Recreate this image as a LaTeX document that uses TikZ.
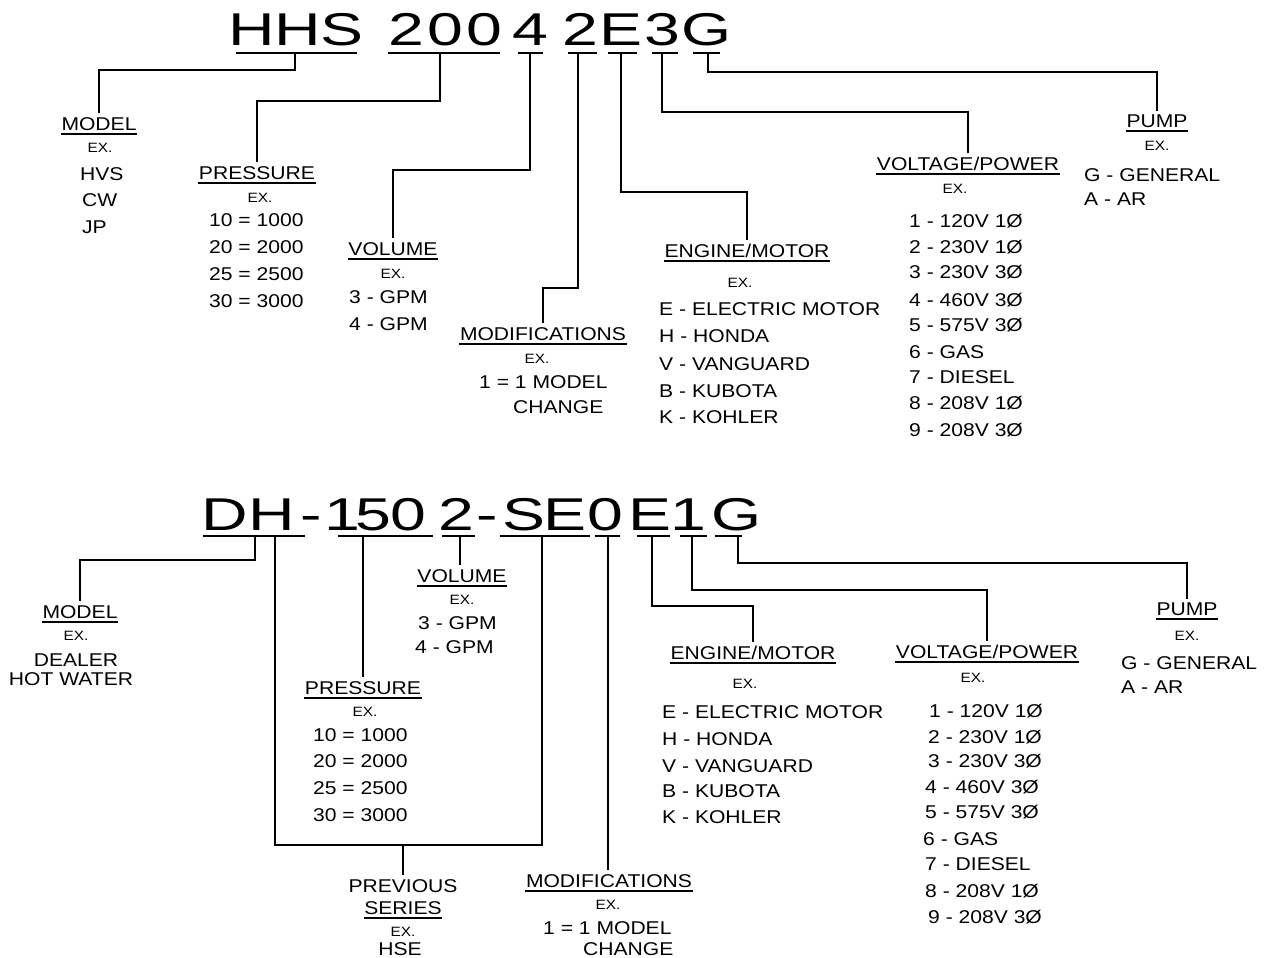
\documentclass[tikz,border=0pt]{standalone}
\usepackage{fontspec}
\setmainfont{Liberation Sans}[FakeStretch=1.14]
\newfontfamily\titlefont{Liberation Sans}[FakeStretch=1.4]
\begin{document}
\begin{tikzpicture}[x=1pt,y=-1pt,
  hd/.style={font=\fontsize{18.5}{20}\selectfont, inner sep=3.5pt, anchor=base},
  it/.style={font=\fontsize{18.5}{20}\selectfont, inner sep=0pt, anchor=base west},
  itc/.style={font=\fontsize{18.5}{20}\selectfont, inner sep=0pt, anchor=base},
  ex/.style={font=\fontsize{13.5}{15}\selectfont, inner sep=0pt, anchor=base},
  tch/.style={font=\titlefont\fontsize{46}{50}\selectfont, inner sep=0pt, anchor=base},
  ln/.style={line width=1.7pt},
  ul/.style={line width=1.7pt, shorten <=3pt, shorten >=3pt}]
\fill[white] (0,0) rectangle (1270,958);
\useasboundingbox (0,0) rectangle (1270,958);

% ===== TOP TITLE =====
\node[tch] (a1) at (252,46) {H};
\node[tch] (a2) at (298,46) {H};
\node[tch] (a3) at (342,46) {S};
\node[tch] (a4) at (406,46) {2};
\node[tch] (a5) at (445,46) {0};
\node[tch] (a6) at (484,46) {0};
\node[tch] (a7) at (530,46) {4};
\node[tch] (a8) at (580,46) {2};
\node[tch] (a9) at (621,46) {E};
\node[tch] (a10) at (662,46) {3};
\node[tch] (a11) at (707,46) {G};

\draw[ln] (236,53) -- (357,53);
\draw[ln] (388,53) -- (500,53);
\draw[ln] (518,53) -- (543,53);
\draw[ln] (568,53) -- (597,53);
\draw[ln] (608,53) -- (637,53);
\draw[ln] (652,53) -- (678,53);
\draw[ln] (693,53) -- (720,53);
\coordinate (u1) at (295,53);
\coordinate (u2) at (440,53);
\coordinate (u3) at (530,53);
\coordinate (u4) at (578,53);
\coordinate (u5) at (621,53);
\coordinate (u6) at (662,53);
\coordinate (u7) at (708,53);

% top headings
\node[hd] (m1) at (99,130) {MODEL};
\node[hd] (p1) at (257,179) {PRESSURE};
\node[hd] (v1) at (393,255) {VOLUME};
\node[hd] (mo1) at (543,340) {MODIFICATIONS};
\node[hd] (e1) at (747,257) {ENGINE/MOTOR};
\node[hd] (vp1) at (968,170) {VOLTAGE/POWER};
\node[hd] (pu1) at (1157,127) {PUMP};
\foreach \n in {m1,p1,v1,mo1,e1,vp1,pu1}
  \draw[ul] (\n.south west) -- (\n.south east);

% top EX.
\node[ex] (xm1) at (100,152) {EX.};
\node[ex] (xp1) at (260,202) {EX.};
\node[ex] (xv1) at (393,278) {EX.};
\node[ex] (xmo1) at (537,363) {EX.};
\node[ex] (xe1) at (740,287) {EX.};
\node[ex] (xvp1) at (955,193) {EX.};
\node[ex] (xpu1) at (1157,150) {EX.};

% top items
\node[it] (m1a) at (80,180) {HVS};
\node[it] (m1b) at (82,206) {CW};
\node[it] (m1c) at (82,233) {JP};
\node[it] (p1a) at (209,226) {10 = 1000};
\node[it] (p1b) at (209,253) {20 = 2000};
\node[it] (p1c) at (209,280) {25 = 2500};
\node[it] (p1d) at (209,307) {30 = 3000};
\node[it] (v1a) at (349,303) {3 - GPM};
\node[it] (v1b) at (349,330) {4 - GPM};
\node[it] (mo1a) at (479,388) {1 = 1 MODEL};
\node[it] (mo1b) at (513,413) {CHANGE};
\node[it] (e1a) at (659,315) {E - ELECTRIC MOTOR};
\node[it] (e1b) at (659,342) {H - HONDA};
\node[it] (e1c) at (659,370) {V - VANGUARD};
\node[it] (e1d) at (659,397) {B - KUBOTA};
\node[it] (e1e) at (659,423) {K - KOHLER};
\node[it] (vp1a) at (909,227) {1 - 120V 1Ø};
\node[it] (vp1b) at (909,253) {2 - 230V 1Ø};
\node[it] (vp1c) at (909,278) {3 - 230V 3Ø};
\node[it] (vp1d) at (909,306) {4 - 460V 3Ø};
\node[it] (vp1e) at (909,331) {5 - 575V 3Ø};
\node[it] (vp1f) at (909,358) {6 - GAS};
\node[it] (vp1g) at (909,383) {7 - DIESEL};
\node[it] (vp1h) at (909,409) {8 - 208V 1Ø};
\node[it] (vp1i) at (909,436) {9 - 208V 3Ø};
\node[it] (pu1a) at (1084,181) {G - GENERAL};
\node[it] (pu1b) at (1084,205) {A - AR};

% top connectors
\draw[ln] (u1) -- (u1 |- 0,70) -| (m1.north);
\draw[ln] (u2) -- (u2 |- 0,101) -| (p1.north);
\draw[ln] (u3) -- (u3 |- 0,170) -| (v1.north);
\draw[ln] (u4) -- (u4 |- 0,288) -| (mo1.north);
\draw[ln] (u5) -- (u5 |- 0,192) -| (e1.north);
\draw[ln] (u6) -- (u6 |- 0,112) -| (vp1.north);
\draw[ln] (u7) -- (u7 |- 0,72) -| (pu1.north);

% ===== BOTTOM TITLE =====
\node[tch] (b1) at (225,530) {D};
\node[tch] (b2) at (272,530) {H};
\node[tch] (b3) at (311,530) {-};
\node[tch] (b4) at (342,530) {1};
\node[tch] (b5) at (373,530) {5};
\node[tch] (b6) at (408,530) {0};
\node[tch] (b7) at (456,530) {2};
\node[tch] (b8) at (487,530) {-};
\node[tch] (b9) at (524,530) {S};
\node[tch] (b10) at (565,530) {E};
\node[tch] (b11) at (605,530) {0};
\node[tch] (b12) at (650,530) {E};
\node[tch] (b13) at (688,530) {1};
\node[tch] (b14) at (737,530) {G};

\draw[ln] (203,536) -- (305,536);
\draw[ln] (338,536) -- (433,536);
\draw[ln] (442,536) -- (475,536);
\draw[ln] (500,536) -- (590,536);
\draw[ln] (595,536) -- (620,536);
\draw[ln] (637,536) -- (670,536);
\draw[ln] (680,536) -- (707,536);
\draw[ln] (715,536) -- (742,536);
\coordinate (w1) at (255,536);
\coordinate (w2) at (275,536);
\coordinate (w3) at (363,536);
\coordinate (w4) at (460,536);
\coordinate (w5) at (542,536);
\coordinate (w6) at (608,536);
\coordinate (w7) at (652,536);
\coordinate (w8) at (692,536);
\coordinate (w9) at (738,536);
\coordinate (bm) at (403,845);

% bottom headings
\node[hd] (m2) at (80,618) {MODEL};
\node[hd] (v2) at (462,582) {VOLUME};
\node[hd] (p2) at (363,694) {PRESSURE};
\node[hd] (prev) at (403,892) {PREVIOUS};
\node[hd] (ser) at (403,914) {SERIES};
\node[hd] (mo2) at (609,887) {MODIFICATIONS};
\node[hd] (e2) at (753,659) {ENGINE/MOTOR};
\node[hd] (vp2) at (987,658) {VOLTAGE/POWER};
\node[hd] (pu2) at (1187,615) {PUMP};
\foreach \n in {m2,v2,p2,ser,mo2,e2,vp2,pu2}
  \draw[ul] (\n.south west) -- (\n.south east);

% bottom EX.
\node[ex] (xm2) at (76,640) {EX.};
\node[ex] (xv2) at (462,604) {EX.};
\node[ex] (xp2) at (365,716) {EX.};
\node[ex] (xser) at (403,936) {EX.};
\node[ex] (xmo2) at (608,909) {EX.};
\node[ex] (xe2) at (745,688) {EX.};
\node[ex] (xvp2) at (973,682) {EX.};
\node[ex] (xpu2) at (1187,640) {EX.};

% bottom items
\node[itc] (m2a) at (76,666) {DEALER};
\node[itc] (m2b) at (71,685) {HOT WATER};
\node[it] (v2a) at (418,629) {3 - GPM};
\node[it] (v2b) at (415,653) {4 - GPM};
\node[it] (p2a) at (313,741) {10 = 1000};
\node[it] (p2b) at (313,767) {20 = 2000};
\node[it] (p2c) at (313,794) {25 = 2500};
\node[it] (p2d) at (313,821) {30 = 3000};
\node[itc] (sera) at (400,955) {HSE};
\node[it] (mo2a) at (543,934) {1 = 1 MODEL};
\node[it] (mo2b) at (583,955) {CHANGE};
\node[it] (e2a) at (662,718) {E - ELECTRIC MOTOR};
\node[it] (e2b) at (662,745) {H - HONDA};
\node[it] (e2c) at (662,772) {V - VANGUARD};
\node[it] (e2d) at (662,797) {B - KUBOTA};
\node[it] (e2e) at (662,823) {K - KOHLER};
\node[it] (vp2a) at (929,717) {1 - 120V 1Ø};
\node[it] (vp2b) at (928,743) {2 - 230V 1Ø};
\node[it] (vp2c) at (928,767) {3 - 230V 3Ø};
\node[it] (vp2d) at (925,793) {4 - 460V 3Ø};
\node[it] (vp2e) at (925,818) {5 - 575V 3Ø};
\node[it] (vp2f) at (923,845) {6 - GAS};
\node[it] (vp2g) at (925,870) {7 - DIESEL};
\node[it] (vp2h) at (925,897) {8 - 208V 1Ø};
\node[it] (vp2i) at (928,923) {9 - 208V 3Ø};
\node[it] (pu2a) at (1121,669) {G - GENERAL};
\node[it] (pu2b) at (1121,693) {A - AR};

% bottom connectors
\draw[ln] (w1) -- (w1 |- 0,560) -| (m2.north);
\draw[ln] (w2) -- (w2 |- bm) -- (w5 |- bm) -- (w5);
\draw[ln] (bm) -- (prev.north);
\draw[ln] (w3) -- (w3 |- p2.north);
\draw[ln] (w4) -- (w4 |- v2.north);
\draw[ln] (w6) -- (w6 |- mo2.north);
\draw[ln] (w7) -- (w7 |- 0,606) -| (e2.north);
\draw[ln] (w8) -- (w8 |- 0,590) -| (vp2.north);
\draw[ln] (w9) -- (w9 |- 0,563) -| (pu2.north);
\end{tikzpicture}
\end{document}
